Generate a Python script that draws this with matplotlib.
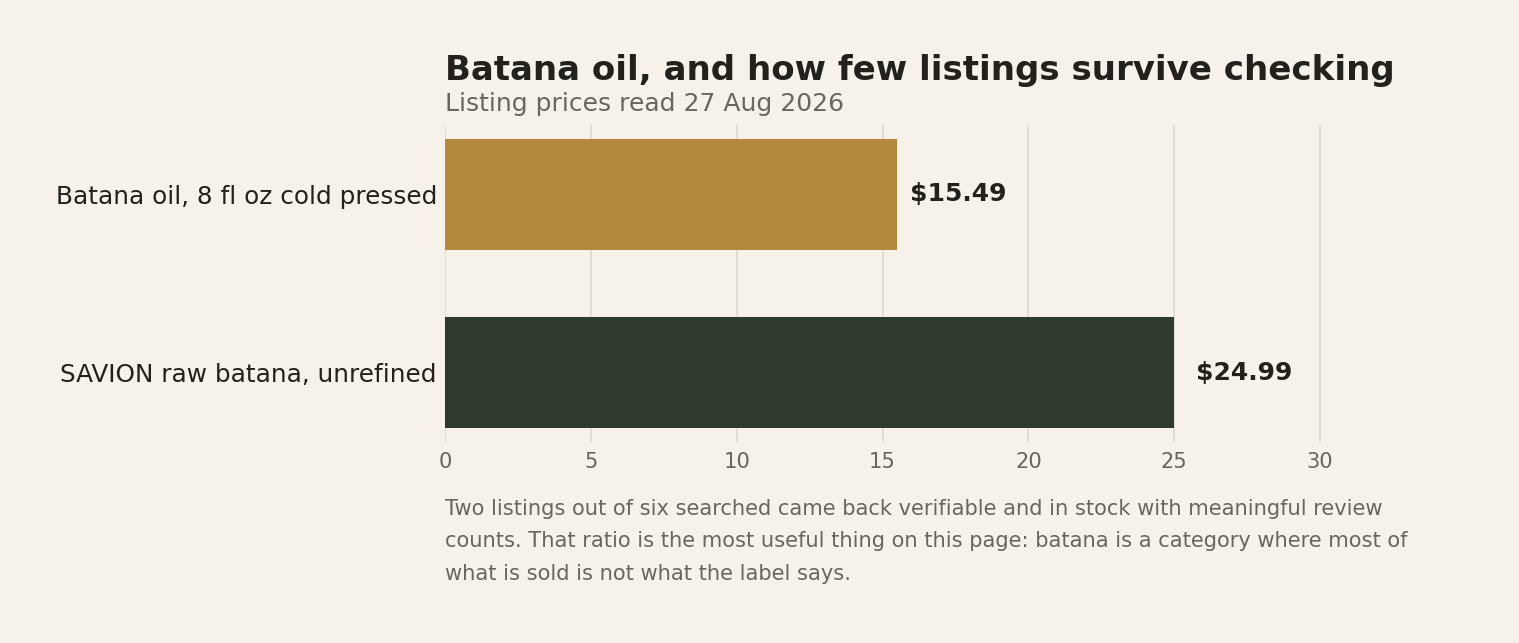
import matplotlib
matplotlib.use("Agg")
import matplotlib.pyplot as plt

# data
listings = ["Batana oil, 8 fl oz cold pressed", "SAVION raw batana, unrefined"]
prices = [15.49, 24.99]
bar_colors = ["#B4893E", "#30392D"]
x_ticks = [0, 5, 10, 15, 20, 25, 30]

title = "Batana oil, and how few listings survive checking"
subtitle = "Listing prices read 27 Aug 2026"
note = ("Two listings out of six searched came back verifiable and in stock with meaningful review\n"
        "counts. That ratio is the most useful thing on this page: batana is a category where most of\n"
        "what is sold is not what the label says.")

BG = "#F6F2EA"
INK = "#22211C"
MUTED = "#6B665C"
GRID = "#E2DDD0"

plt.rcParams["font.family"] = ["DejaVu Sans"]

DPI = 144
W, H = 1519, 643
fig = plt.figure(figsize=(W / DPI, H / DPI), dpi=DPI, facecolor=BG)
ax = fig.add_axes([445 / W, 1 - 442 / H, (1364 - 445) / W, (442 - 125) / H])
ax.set_facecolor(BG)

ypos = list(range(len(listings)))
ax.barh(ypos, prices, height=0.62, color=bar_colors, zorder=2)

for y, v in zip(ypos, prices):
    ax.text(v * 1.03, y, f"${v:.2f}", va="center", ha="left",
            fontsize=12.5, fontweight="bold", color=INK, zorder=3)

ax.set_ylim(1.39, -0.39)
ax.set_xlim(0, 31.5)
ax.set_yticks(ypos)
ax.set_yticklabels(listings, fontsize=12.4, color=INK)
ax.set_xticks(x_ticks)
ax.set_xticklabels([str(t) for t in x_ticks], fontsize=10.5, color=MUTED)
ax.tick_params(axis="both", length=0)
ax.tick_params(axis="y", pad=4)
ax.tick_params(axis="x", pad=5)

ax.grid(axis="x", color=GRID, linewidth=1.0, zorder=0)
ax.grid(axis="y", visible=False)
for s in ax.spines.values():
    s.set_visible(False)

fig.text(445 / W, 1 - 80 / H, title, fontsize=17, fontweight="bold",
         color=INK, ha="left", va="baseline")
fig.text(445 / W, 1 - 111 / H, subtitle, fontsize=12.5, color=MUTED,
         ha="left", va="baseline")
fig.text(445 / W, 1 - 499 / H, note, fontsize=10.5, color=MUTED,
         ha="left", va="top", linespacing=1.77)

fig.savefig("out.png", dpi=DPI, facecolor=BG)
